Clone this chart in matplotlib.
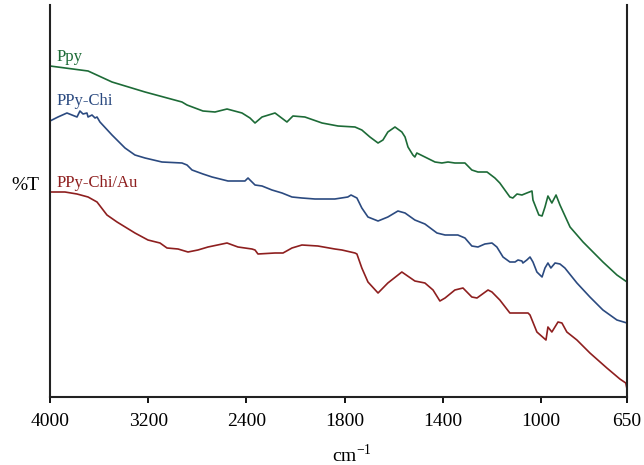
import numpy as np
import matplotlib
matplotlib.use("Agg")
import matplotlib.pyplot as plt

plt.rcParams['font.family'] = ['Liberation Serif', 'DejaVu Serif']

# wavenumber (cm-1) and transmittance (arbitrary, offset)
ppy_wn = [4000, 3690, 3495, 3226, 2925, 2884, 2819, 2754, 2656, 2558, 2436, 2371, 2330,
          2273, 2167, 2070, 2021, 1962, 1892, 1827, 1758, 1730, 1697, 1664, 1644, 1624,
          1595, 1567, 1554, 1542, 1522, 1514, 1506, 1473, 1432, 1404, 1379, 1351, 1310,
          1282, 1257, 1220, 1188, 1168, 1127, 1115, 1098, 1078, 1058, 1037, 1033, 1009,
          996, 984, 972, 956, 939, 923, 882, 829, 748, 691, 650]
ppy_t = [331, 326, 315, 305, 295, 292, 289, 286, 285, 288, 284, 279, 274,
         280, 284, 275, 281, 280, 274, 271, 270, 267, 260, 254, 257, 265,
         270, 265, 260, 250, 242, 240, 244, 240, 235, 234, 235, 234, 234,
         227, 225, 225, 219, 214, 200, 199, 203, 202, 204, 206, 197, 182,
         181, 190, 201, 194, 202, 192, 170, 155, 135, 122, 115]

chi_wn = [4000, 3935, 3862, 3821, 3780, 3756, 3731, 3699, 3690, 3658, 3633, 3617, 3593,
          3495, 3389, 3308, 3226, 3088, 2925, 2884, 2843, 2754, 2680, 2550, 2412, 2387,
          2371, 2330, 2273, 2192, 2110, 2029, 1974, 1921, 1840, 1787, 1774, 1758, 1750,
          1730, 1705, 1664, 1624, 1583, 1554, 1514, 1473, 1424, 1391, 1339, 1310, 1282,
          1257, 1229, 1200, 1180, 1155, 1127, 1106, 1094, 1078, 1074, 1058, 1045, 1033,
          1017, 996, 984, 972, 960, 943, 923, 903, 854, 801, 748, 691, 650]
chi_t = [276, 280, 284, 282, 280, 286, 283, 284, 280, 282, 279, 280, 275,
         262, 249, 242, 239, 235, 234, 232, 227, 223, 220, 216, 216, 219,
         217, 212, 211, 207, 204, 200, 199, 198, 198, 200, 202, 200, 199,
         189, 180, 176, 180, 186, 184, 177, 173, 164, 162, 162, 159, 151,
         150, 153, 154, 150, 140, 135, 135, 137, 136, 134, 137, 140, 135,
         125, 120, 129, 134, 129, 134, 133, 129, 114, 100, 87, 77, 74]

au_wn = [4000, 3878, 3780, 3690, 3617, 3536, 3454, 3308, 3202, 3104, 3047, 2957, 2876,
         2795, 2713, 2558, 2469, 2355, 2330, 2306, 2167, 2102, 2029, 1974, 1909, 1840,
         1811, 1758, 1750, 1730, 1705, 1664, 1624, 1567, 1514, 1473, 1440, 1412, 1391,
         1351, 1318, 1282, 1261, 1216, 1200, 1168, 1127, 1098, 1074, 1053, 1045, 1017,
         980, 972, 956, 931, 915, 895, 854, 801, 732, 679, 655, 650]
au_t = [205, 205, 203, 200, 195, 182, 175, 164, 157, 154, 149, 148, 145,
        147, 150, 154, 150, 148, 147, 143, 144, 144, 149, 152, 151, 148,
        147, 144, 143, 129, 115, 104, 114, 125, 116, 114, 107, 96, 99,
        107, 109, 100, 99, 107, 105, 97, 84, 84, 84, 84, 82, 65,
        57, 70, 65, 75, 74, 65, 57, 44, 29, 18, 14, 8]

ticks = [4000, 3200, 2400, 1800, 1400, 1000, 650]


# below 2000 cm-1 the axis is stretched twice
def fwd(x):
    x = np.asarray(x, dtype=float)
    return np.where(x >= 2000, x, 2 * x - 2000)


def inv(y):
    y = np.asarray(y, dtype=float)
    return np.where(y >= 2000, y, (y + 2000) / 2)


fig = plt.figure(figsize=(6.44, 4.65), dpi=100)
ax = fig.add_axes([50 / 644, 68 / 465, 577 / 644, 392 / 465])

ax.plot(ppy_wn, ppy_t, color='#1d6b37', lw=1.2)
ax.plot(chi_wn, chi_t, color='#2b4a80', lw=1.2)
ax.plot(au_wn, au_t, color='#8e1f1f', lw=1.2)

ax.set_xscale('function', functions=(fwd, inv))
ax.set_xlim(4000, 650)
ax.set_ylim(0, 392)
ax.set_xticks(ticks)
ax.set_xticklabels([str(t) for t in ticks], fontsize=14)
ax.xaxis.set_minor_locator(plt.NullLocator())
ax.set_yticks([])
ax.tick_params(axis='x', direction='out', length=4.5, width=1.3, pad=7)

ax.spines['top'].set_visible(False)
for s in ['left', 'right', 'bottom']:
    ax.spines[s].set_linewidth(1.5)
    ax.spines[s].set_color('#222222')

ax.text(0.011, 0.867, 'Ppy', transform=ax.transAxes, color='#1d6b37',
        fontsize=12, va='center', ha='left')
ax.text(0.012, 0.755, 'PPy-Chi', transform=ax.transAxes, color='#2b4a80',
        fontsize=12, va='center', ha='left')
ax.text(0.012, 0.546, 'PPy-Chi/Au', transform=ax.transAxes, color='#8e1f1f',
        fontsize=12, va='center', ha='left')

fig.text(11 / 644, 1 - 185 / 465, '%T', fontsize=14, va='center', ha='left')
fig.text(352 / 644, 1 - 462 / 465, 'cm$^{\\mathregular{-1}}$', fontsize=14,
         va='baseline', ha='center')

fig.savefig('out.png', dpi=100)
